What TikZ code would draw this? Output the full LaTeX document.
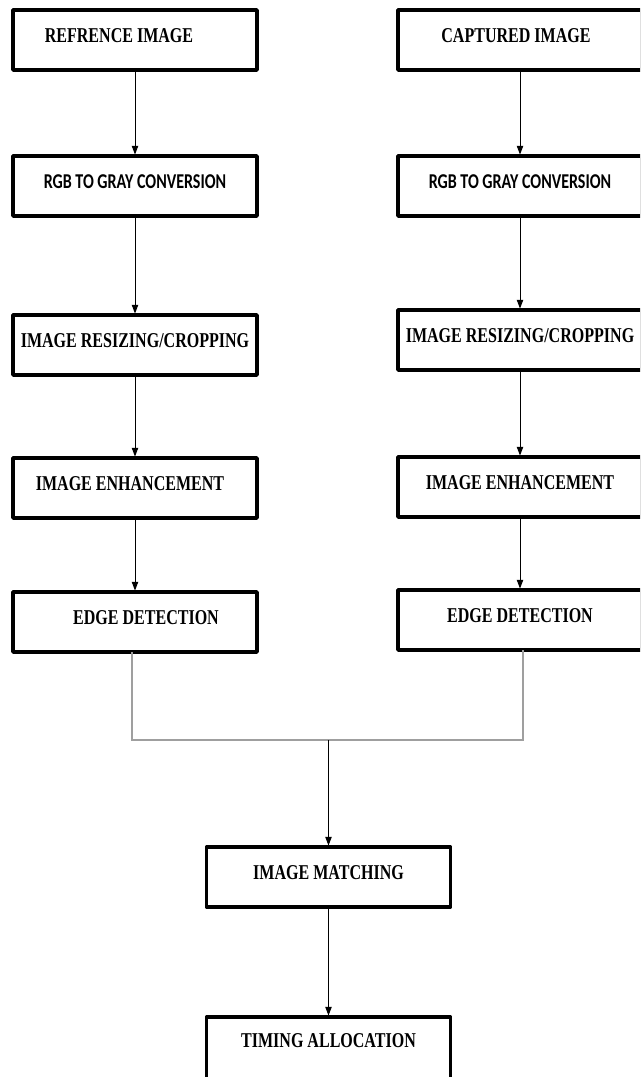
\documentclass[tikz,border=0pt]{standalone}
\usepackage{fontspec}
\setmainfont{Liberation Serif}[FakeStretch=0.76]
\newfontfamily\calfont{Carlito}[FakeStretch=0.76]
\usepackage{tikz}
\usetikzlibrary{arrows.meta}

\tikzset{
    stage/.style={draw, line width=2.4pt, line join=round, minimum width=6.1cm,
        minimum height=1.5cm, outer sep=0pt, inner sep=0pt,
        text height=0.35cm, text depth=0.225cm,
        font=\fontsize{15pt}{18pt}\selectfont\bfseries,
        append after command={
            \pgfextra{\let\stagenode\tikzlastnode}
            foreach \c in {north west, north east, south west, south east}
                {[fill] (\stagenode.\c) circle (1.7pt)}
        }},
    flow/.style={-{Triangle[length=2.2mm,width=1.6mm]}, line width=0.7pt, shorten >=1pt},
    merge/.style={gray!75, line width=0.9pt}
}

\begin{document}
\begin{tikzpicture}[x=0.025cm, y=-0.025cm]

    % page frame
    \clip (0,0) rectangle (640,1077);

    % left branch: reference image
    \node[stage] (ref) at (135,40) {REFRENCE IMAGE\hspace*{0.8cm}};
    \node[stage] (grayl) at (135,186) {\calfont\bfseries RGB TO GRAY CONVERSION};
    \node[stage] (sizel) at (135,345) {IMAGE RESIZING/CROPPING};
    \node[stage] (enhl) at (135,488) {IMAGE ENHANCEMENT\hspace*{0.25cm}};
    \node[stage] (edgel) at (135,622) {\hspace*{0.55cm}EDGE DETECTION};

    % right branch: captured image
    \node[stage] (cap) at (520,40) {CAPTURED IMAGE\hspace*{0.2cm}};
    \node[stage] (grayr) at (520,186) {\calfont\bfseries RGB TO GRAY CONVERSION};
    \node[stage] (sizer) at (520,340) {IMAGE RESIZING/CROPPING};
    \node[stage] (enhr) at (520,487) {IMAGE ENHANCEMENT};
    \node[stage] (edger) at (520,620) {EDGE DETECTION};

    % common part
    \node[stage] (match) at (328.5,877) {IMAGE MATCHING};
    \node[stage, minimum height=1.6cm, text depth=0.42cm] (timing) at (328.5,1049) {TIMING ALLOCATION};

    % arrows down each branch
    \draw[flow] (ref) -- (grayl);
    \draw[flow] (grayl) -- (sizel);
    \draw[flow] (sizel) -- (enhl);
    \draw[flow] (enhl) -- (edgel);
    \draw[flow] (cap) -- (grayr);
    \draw[flow] (grayr) -- (sizer);
    \draw[flow] (sizer) -- (enhr);
    \draw[flow] (enhr) -- (edger);

    % join the two branches
    \coordinate (join) at (328.5,740);
    \draw[merge] ([xshift=-0.075cm]edgel.south) |- (join) -| ([xshift=0.075cm]edger.south);
    \draw[flow] (join) -- (match);
    \draw[flow] (match) -- (timing);

\end{tikzpicture}
\end{document}
